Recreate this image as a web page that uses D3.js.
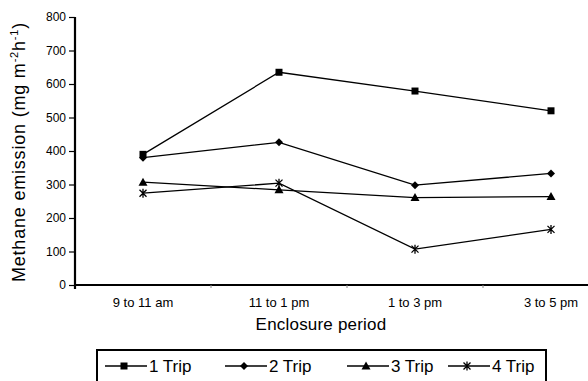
<!DOCTYPE html>
<html>
<head>
<meta charset="utf-8">
<title>Methane emission</title>
<style>
  body { margin: 0; background: #fff; }
  text { font-family: "Liberation Sans", Arial, sans-serif; fill: #000; }
</style>
</head>
<body>
<div id="container"></div>
<script src="https://d3js.org/d3.v7.min.js"></script>
<script>

// data
const periods = ["9 to 11 am", "11 to 1 pm", "1 to 3 pm", "3 to 5 pm"];
const trip1 = [390, 635, 579, 520];
const trip2 = [380, 426, 298, 333];
const trip3 = [307, 284, 261, 264];
const trip4 = [274, 304, 107, 166];
const seriesNames = ["1 Trip", "2 Trip", "3 Trip", "4 Trip"];
const yTicks = [0, 100, 200, 300, 400, 500, 600, 700, 800];

const width = 588;
const height = 381;
const marginLeft = 75;
const plotTop = 17;
const plotBottom = 285;

const series = [trip1, trip2, trip3, trip4].map((vals, i) => ({
  name: seriesNames[i],
  shape: ["square", "diamond", "triangle", "star"][i],
  values: vals.map((v, j) => ({ period: periods[j], value: v }))
}));

const x = d3.scaleBand()
  .domain(periods)
  .range([marginLeft, marginLeft + 4 * 136]);

const y = d3.scaleLinear()
  .domain([0, 800])
  .range([plotBottom, plotTop]);

const cx = p => x(p) + x.bandwidth() / 2;

const svg = d3.select("#container")
  .append("svg")
  .attr("width", width)
  .attr("height", height);

// draws one marker of the given shape centred at 0,0
const drawMarker = (g, shape) => {
  if (shape === "square") {
    g.append("rect").attr("x", -3.5).attr("y", -3.5)
      .attr("width", 7).attr("height", 7).attr("fill", "#000");
  } else if (shape === "diamond") {
    g.append("path").attr("d", "M0,-4L4,0L0,4L-4,0Z").attr("fill", "#000");
  } else if (shape === "triangle") {
    g.append("path").attr("d", "M0,-4.5L4.5,3.5L-4.5,3.5Z").attr("fill", "#000");
  } else {
    g.append("path")
      .attr("d", "M-3.5,-3.5L3.5,3.5M-3.5,3.5L3.5,-3.5M0,-4.5L0,4.5")
      .attr("stroke", "#000").attr("stroke-width", 1.3).attr("fill", "none");
  }
};

// y axis
const yAxis = svg.append("g")
  .attr("transform", `translate(${marginLeft},0)`)
  .call(d3.axisLeft(y).tickValues(yTicks).tickSize(6).tickSizeOuter(0).tickPadding(3));
yAxis.select(".domain").remove();
yAxis.selectAll(".tick line").attr("stroke", "#000").attr("stroke-width", 1.2);
yAxis.selectAll(".tick text")
  .style("font-family", "'Liberation Sans', Arial, sans-serif")
  .style("font-size", "12px")
  .attr("fill", "#000");
svg.append("line")
  .attr("x1", marginLeft).attr("x2", marginLeft)
  .attr("y1", y(800)).attr("y2", y(0) + 4)
  .attr("stroke", "#000").attr("stroke-width", 2.2);

// x axis
const xAxis = svg.append("g")
  .attr("transform", `translate(0,${plotBottom})`)
  .call(d3.axisBottom(x).tickSize(0).tickPadding(13));
xAxis.select(".domain").remove();
xAxis.selectAll(".tick text")
  .style("font-family", "'Liberation Sans', Arial, sans-serif")
  .style("font-size", "13px")
  .attr("fill", "#000");
svg.append("line")
  .attr("x1", marginLeft).attr("x2", width)
  .attr("y1", plotBottom).attr("y2", plotBottom)
  .attr("stroke", "#000").attr("stroke-width", 2.2);
svg.selectAll(".xtick")
  .data(periods.slice(1))
  .enter().append("line")
  .attr("x1", d => x(d)).attr("x2", d => x(d))
  .attr("y1", plotBottom).attr("y2", plotBottom + 3)
  .attr("stroke", "#888").attr("stroke-width", 1);

// axis titles
svg.append("text")
  .attr("x", 321).attr("y", 330)
  .attr("text-anchor", "middle")
  .style("font-size", "17px")
  .style("letter-spacing", "0.2px")
  .text("Enclosure period");

const yTitle = svg.append("text")
  .attr("transform", `translate(25,${(plotTop + plotBottom) / 2 + 1}) rotate(-90)`)
  .attr("text-anchor", "middle")
  .style("font-size", "18px")
  .style("letter-spacing", "0.8px");
yTitle.append("tspan").text("Methane emission (mg  m");
yTitle.append("tspan").attr("dy", -7).style("font-size", "11px").text("-2");
yTitle.append("tspan").attr("dy", 7).text("h");
yTitle.append("tspan").attr("dy", -7).style("font-size", "11px").text("-1");
yTitle.append("tspan").attr("dy", 7).text(")");

// lines
const line = d3.line()
  .x(d => cx(d.period))
  .y(d => y(d.value));

svg.selectAll(".series")
  .data(series)
  .enter().append("path")
  .attr("d", d => line(d.values))
  .attr("fill", "none")
  .attr("stroke", "#000")
  .attr("stroke-width", 1.3);

series.forEach(s => {
  s.values.forEach(v => {
    const g = svg.append("g").attr("transform", `translate(${cx(v.period)},${y(v.value)})`);
    drawMarker(g, s.shape);
  });
});

// legend
const legendX = [105, 225, 347, 448];
const legendY = 366;
svg.append("rect")
  .attr("x", 97).attr("y", 350)
  .attr("width", 449).attr("height", 45)
  .attr("fill", "none").attr("stroke", "#000").attr("stroke-width", 2);

series.forEach((s, i) => {
  const g = svg.append("g").attr("transform", `translate(${legendX[i]},${legendY})`);
  g.append("line").attr("x1", 0).attr("x2", 42)
    .attr("stroke", "#000").attr("stroke-width", 1.3);
  const m = g.append("g").attr("transform", "translate(19,0)");
  drawMarker(m, s.shape);
  g.append("text").attr("x", 44).attr("y", 6)
    .style("font-size", "17px")
    .text(s.name);
});

</script>
</body>
</html>
